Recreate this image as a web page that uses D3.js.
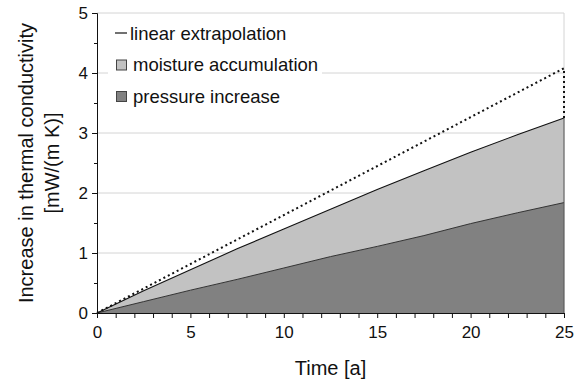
<!DOCTYPE html>
<html>
<head>
<meta charset="utf-8">
<script src="https://cdn.jsdelivr.net/npm/d3@7"></script>
<style>
  html, body { margin: 0; padding: 0; background: #fff; }
  text { font-family: "Liberation Sans", Arial, Helvetica, sans-serif; fill: #111; }
</style>
</head>
<body>
<svg id="chart" width="578" height="382"></svg>
<script>
// ---- data ----
const years = [0, 2.5, 5, 7.5, 10, 12.5, 15, 17.5, 20, 22.5, 25];
const pressureIncrease = [0, 0.19, 0.38, 0.56, 0.75, 0.94, 1.11, 1.29, 1.49, 1.67, 1.84];
const moistureAccumulation = [0, 0.18, 0.34, 0.51, 0.65, 0.79, 0.95, 1.08, 1.19, 1.30, 1.41];
const extrapYears = [0, 25, 25];
const extrapValues = [0, 4.08, 3.25];
const xTicks = [0, 5, 10, 15, 20, 25];
const yTicks = [0, 1, 2, 3, 4, 5];
const legendLabels = ["linear extrapolation", "moisture accumulation", "pressure increase"];
const xTitle = "Time [a]";
const yTitleLines = ["Increase in thermal conductivity", "[mW/(m K)]"];

// ---- layout ----
const svg = d3.select("#chart");
const m = { left: 97, top: 13, right: 14, bottom: 69 };
const W = 578 - m.left - m.right, H = 382 - m.top - m.bottom;
const g = svg.append("g").attr("transform", `translate(${m.left},${m.top})`);

const x = d3.scaleLinear().domain([0, 25]).range([0, W]);
const y = d3.scaleLinear().domain([0, 5]).range([H, 0]);

// grid
g.append("g").selectAll("line").data(yTicks.filter(d => d > 0)).join("line")
  .attr("x1", 0).attr("x2", W).attr("y1", d => y(d)).attr("y2", d => y(d))
  .attr("stroke", "#d4d4d4").attr("stroke-width", 1);
g.append("line").attr("x1", W).attr("x2", W).attr("y1", 0).attr("y2", H)
  .attr("stroke", "#d4d4d4");

// stacked data
const rows = years.map((t, i) => ({ t, p: pressureIncrease[i], m: moistureAccumulation[i] }));
const stack = d3.stack().keys(["p", "m"])(rows);
const area = d3.area().x(d => x(d.data.t)).y0(d => y(d[0])).y1(d => y(d[1]));
const topLine = d3.line().x(d => x(d.data.t)).y(d => y(d[1]));

g.append("path").datum(stack[1]).attr("d", area).attr("fill", "#c2c2c2");
g.append("path").datum(stack[0]).attr("d", area).attr("fill", "#818181");
g.append("path").datum(stack[0]).attr("d", topLine).attr("fill", "none").attr("stroke", "#333").attr("stroke-width", 1);
g.append("path").datum(stack[1]).attr("d", topLine).attr("fill", "none").attr("stroke", "#111").attr("stroke-width", 1.1);
g.append("line").attr("x1", W).attr("x2", W).attr("y1", y(0)).attr("y2", y(stack[1][stack[1].length-1][1]))
  .attr("stroke", "#555").attr("stroke-width", 1);

// extrapolation
const exLine = d3.line().x(d => x(d[0])).y(d => y(d[1]));
g.append("path").datum(extrapYears.map((t, i) => [t, extrapValues[i]]))
  .attr("d", exLine).attr("fill", "none").attr("stroke", "#111")
  .attr("stroke-width", 2).attr("stroke-dasharray", "2,3");

// axes
const xAxis = d3.axisBottom(x).tickValues(d3.range(0, 26, 1)).tickSize(5)
  .tickFormat(d => xTicks.includes(d) ? d : "").tickPadding(8);
const gx = g.append("g").attr("transform", `translate(0,${H})`).call(xAxis);
gx.select(".domain").attr("stroke", "#111");
gx.selectAll(".tick line").attr("stroke", "#111");
gx.selectAll("text").attr("font-size", 17).attr("font-family", "Liberation Sans, Arial, sans-serif").attr("fill", "#111");

const yAxis = d3.axisLeft(y).tickValues(d3.range(0, 5.01, 0.5)).tickSize(5)
  .tickFormat(d => yTicks.includes(d) ? d : "").tickPadding(4);
const gy = g.append("g").call(yAxis);
gy.select(".domain").attr("stroke", "#111");
gy.selectAll(".tick line").attr("stroke", "#111").attr("x2", d => Number.isInteger(d) ? -5 : -3);
gy.selectAll("text").attr("font-size", 17).attr("font-family", "Liberation Sans, Arial, sans-serif").attr("fill", "#111");

// titles
svg.append("text").attr("x", m.left + W / 2).attr("y", 375).attr("text-anchor", "middle")
  .attr("font-size", 20).text(xTitle);
yTitleLines.forEach((t, i) => {
  svg.append("text").attr("transform", `translate(${33 + i * 26},${m.top + H / 2}) rotate(-90)`)
    .attr("text-anchor", "middle").attr("font-size", 20).text(t);
});

// legend
const lg = svg.append("g");
lg.append("rect").attr("x", 108).attr("y", 18).attr("width", 214).attr("height", 92).attr("fill", "#fff");
lg.append("line").attr("x1", 115).attr("x2", 127).attr("y1", 33).attr("y2", 33).attr("stroke", "#111").attr("stroke-width", 1.2);
lg.append("text").attr("x", 130).attr("y", 39.5).attr("font-size", 18.5).text(legendLabels[0]);
[["#c2c2c2", 60, 71], ["#818181", 91.5, 102.5]].forEach((s, i) => {
  lg.append("rect").attr("x", 116.5).attr("y", s[1]).attr("width", 10).attr("height", 10)
    .attr("fill", s[0]).attr("stroke", "#444").attr("stroke-width", 1);
  lg.append("text").attr("x", 133).attr("y", s[2]).attr("font-size", 18.5).text(legendLabels[i + 1]);
});
</script>
</body>
</html>
